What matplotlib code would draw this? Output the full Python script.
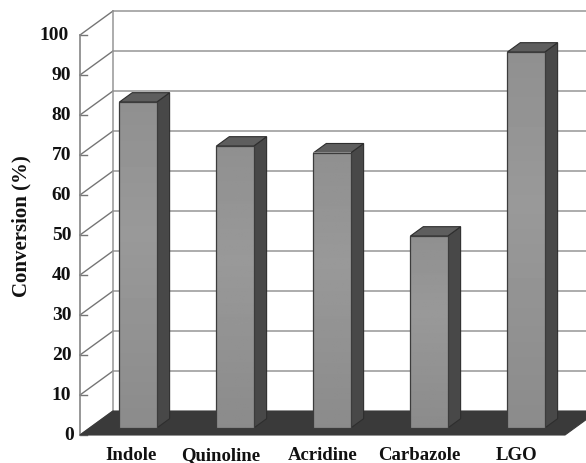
import numpy as np
import matplotlib
matplotlib.use('Agg')
import matplotlib.pyplot as plt
from matplotlib.patches import Polygon

categories = ['Indole', 'Quinoline', 'Acridine', 'Carbazole', 'LGO']
conversion = [81.5, 70.5, 68.8, 48, 94]
yticks = list(range(0, 101, 10))

# oblique projection, depth 1 = back wall
DX = 33 / 97
DY = 6.0
def proj(x, v, d):
    return (x + d * DX, v + d * DY)

W, H = 586, 463
fig = plt.figure(figsize=(W / 100, H / 100), dpi=100)
ax = fig.add_axes([80 / W, 1 - 435 / H, 485 / W, 400 / H])
ax.set_xlim(0, 5)
ax.set_ylim(0, 100)
ax.axis('off')
font = dict(family='Liberation Serif', fontweight='bold', color='#111111', clip_on=False)

# walls
wall = dict(color='#969696', lw=1.1, zorder=1, clip_on=False)
diag = dict(color='#757575', lw=1.0, zorder=1, clip_on=False)
for v in yticks:
    a, b = proj(0, v, 1), proj(5, v, 1)
    if v > 0:
        ax.plot([a[0], b[0]], [a[1], b[1]], **wall)
    f = proj(0, v, 0)
    ax.plot([f[0], a[0]], [f[1], a[1]], **diag)
    ax.plot([0, 0.07], [v, v], color='#757575', lw=1.0, zorder=1, clip_on=False)
    # labels step left as they get longer
    pad = -0.062 - 0.028 * (len(str(v)) - 1)
    ax.text(pad, v, str(v), ha='right', va='center', fontsize=14, **font)
a, b = proj(0, 0, 1), proj(0, 100, 1)
ax.plot([a[0], b[0]], [a[1], b[1]], **wall)
ax.plot([0, 0], [0, 100], color='#858585', lw=1.2, zorder=1, clip_on=False)

# floor
floor = [proj(0, 0, 0), proj(5, 0, 0), proj(5, 0, 1), proj(0, 0, 1)]
ax.add_patch(Polygon(floor, closed=True, fc='#3a3a3a', ec='#3a3a3a', lw=0.8, zorder=2, clip_on=False))

# bars
grad = np.linspace(0, 1, 100)
grad = 0.6 - 0.09 * np.abs(grad - 0.4)[:, None]
width = 0.385
d0, d1 = 0.29, 0.68
label_shift = [0.03, -0.05, 0, 0, 0]
for i, (name, val) in enumerate(zip(categories, conversion)):
    x0 = i + 0.5 - width / 2
    x1 = x0 + width
    fl = proj(x0, 0, d0)[1]
    tp = proj(x0, val, d0)[1]
    fx0, fx1 = proj(x0, 0, d0)[0], proj(x1, 0, d0)[0]
    ax.imshow(grad, extent=[fx0, fx1, fl, tp], origin='upper', cmap='gray', vmin=0, vmax=1,
              aspect='auto', zorder=5, clip_on=False)
    ax.plot([fx0, fx1, fx1, fx0, fx0], [fl, fl, tp, tp, fl], color='#3c3c3c', lw=0.9, zorder=6)
    side = [proj(x1, 0, d0), proj(x1, 0, d1), proj(x1, val, d1), proj(x1, val, d0)]
    ax.add_patch(Polygon(side, closed=True, fc='#484848', ec='#2e2e2e', lw=0.8, zorder=4))
    top = [proj(x0, val, d0), proj(x1, val, d0), proj(x1, val, d1), proj(x0, val, d1)]
    ax.add_patch(Polygon(top, closed=True, fc='#5e5e5e', ec='#2e2e2e', lw=0.8, zorder=4))
    ax.text(i + 0.5 + label_shift[i], -6.2, name, ha='center', va='baseline', fontsize=13.5, **font)
ax.set_xlim(0, 5)
ax.set_ylim(0, 100)

ax.text(-0.6, 52.2, 'Conversion (%)', rotation=90, ha='center', va='center', fontsize=15, **font)

plt.savefig('out.png', dpi=100)
